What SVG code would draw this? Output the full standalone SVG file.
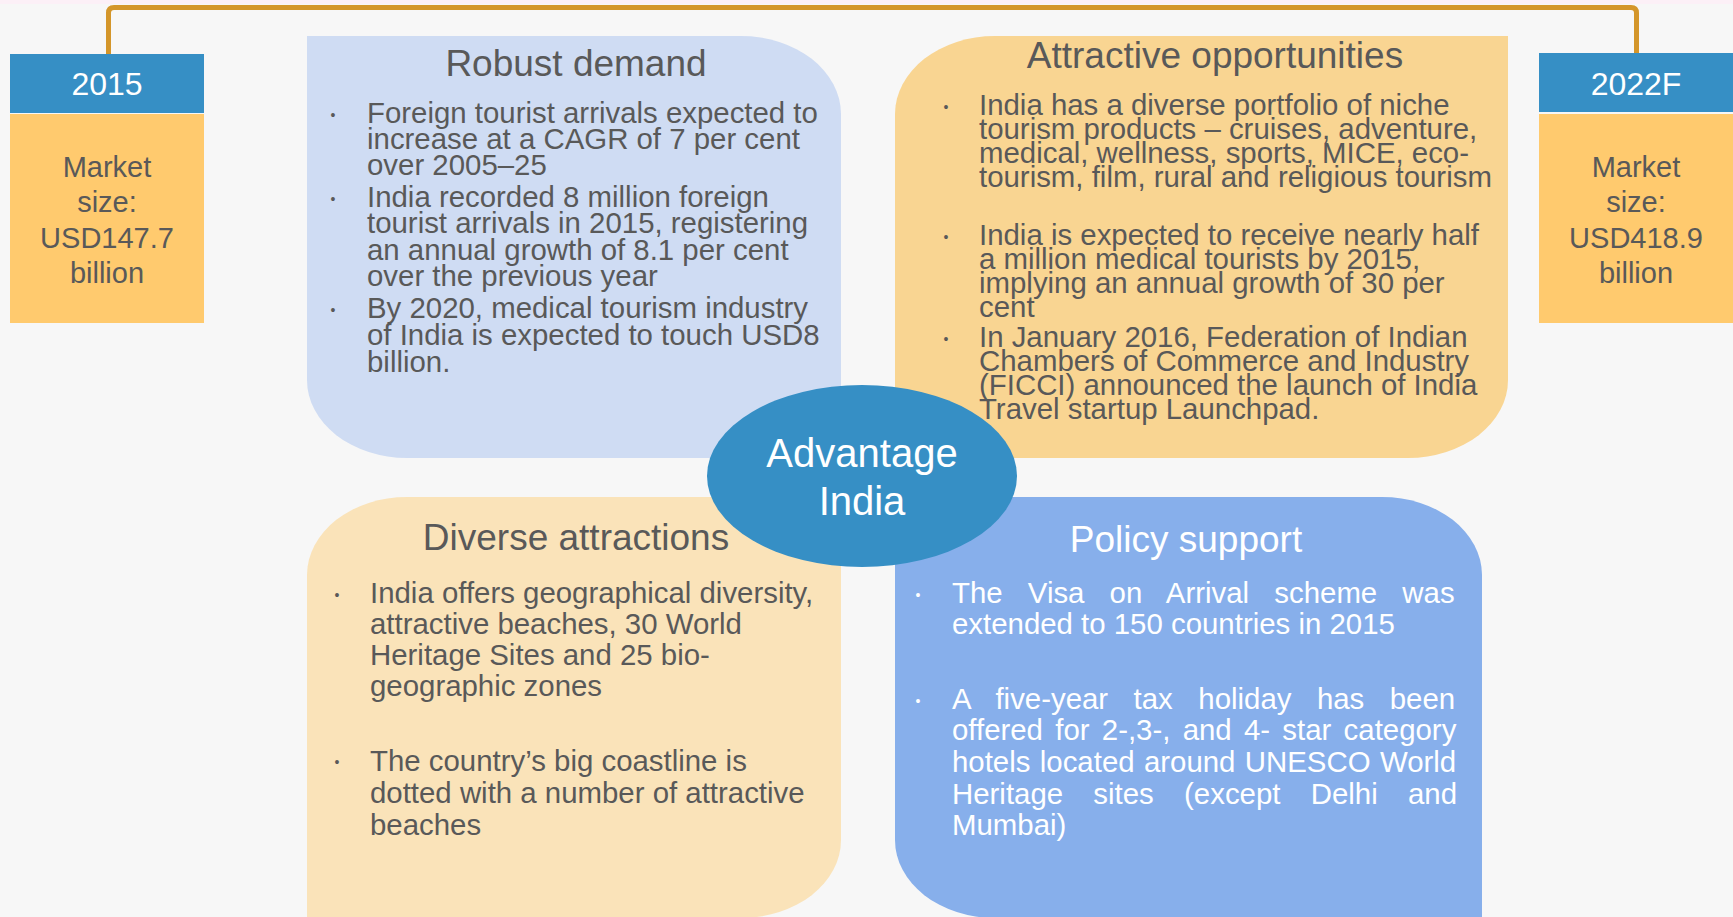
<svg xmlns="http://www.w3.org/2000/svg" width="1733" height="917" viewBox="0 0 1733 917">
<style>
.t{font-family:"Liberation Sans",Arial,sans-serif;fill:#595959}
.w{fill:#ffffff}
.h{font-size:37px;text-anchor:middle}
.b{font-size:29.4px}
.m{font-size:29px;text-anchor:middle}
.y{font-size:32px;text-anchor:middle}
.bu{font-size:14px;text-anchor:middle}
.conn{fill:none;stroke:#d4962a;stroke-width:5;stroke-linejoin:round}
.blue{fill:#368fc5}
.orng{fill:#ffca6e}
</style>
<rect x="0" y="0" width="1733" height="917" fill="#f7f7f7"/>
<rect x="0" y="0" width="1733" height="4" fill="#fcf0f7"/>
<g id="connectors">
<path class="conn" d="M108.5 54 V13 Q108.5 7.5 114 7.5 H1631 Q1636.5 7.5 1636.5 13 V53"/>
</g>
<g id="year2015">
<rect class="blue" x="10" y="54" width="194" height="59"/>
<rect class="orng" x="10" y="114" width="194" height="209"/>
<text class="t w y" x="107" y="95">2015</text>
<text class="t m" x="107" y="177">Market</text>
<text class="t m" x="107" y="212">size:</text>
<text class="t m" x="107" y="248">USD147.7</text>
<text class="t m" x="107" y="283">billion</text>
</g>
<g id="year2022">
<rect class="blue" x="1539" y="53" width="194" height="59"/>
<rect class="orng" x="1539" y="114" width="194" height="209"/>
<text class="t w y" x="1636" y="95">2022F</text>
<text class="t m" x="1636" y="177">Market</text>
<text class="t m" x="1636" y="212">size:</text>
<text class="t m" x="1636" y="248">USD418.9</text>
<text class="t m" x="1636" y="283">billion</text>
</g>
<g id="robust">
<path d="M307 36 H741 A100 78 0 0 1 841 114 V458 H407 A100 78 0 0 1 307 380 Z" fill="#cfdcf3"/>
<text class="t h" x="576" y="76">Robust demand</text>
<text class="t bu" x="333" y="120">•</text>
<text class="t bu" x="333" y="204">•</text>
<text class="t bu" x="333" y="315">•</text>
<text class="t b" x="367" y="123">Foreign tourist arrivals expected to</text>
<text class="t b" x="367" y="149">increase at a CAGR of 7 per cent</text>
<text class="t b" x="367" y="175">over 2005–25</text>
<text class="t b" x="367" y="207">India recorded 8 million foreign</text>
<text class="t b" x="367" y="233">tourist arrivals in 2015, registering</text>
<text class="t b" x="367" y="260">an annual growth of 8.1 per cent</text>
<text class="t b" x="367" y="286">over the previous year</text>
<text class="t b" x="367" y="318">By 2020, medical tourism industry</text>
<text class="t b" x="367" y="345">of India is expected to touch USD8</text>
<text class="t b" x="367" y="372">billion.</text>
</g>
<g id="attractive">
<path d="M995 36 H1508 V380 A100 78 0 0 1 1408 458 H895 V114 A100 78 0 0 1 995 36 Z" fill="#f9d592"/>
<text class="t h" x="1215" y="68">Attractive opportunities</text>
<text class="t bu" x="946" y="112">•</text>
<text class="t bu" x="946" y="242">•</text>
<text class="t bu" x="946" y="344">•</text>
<text class="t b" x="979" y="115">India has a diverse portfolio of niche</text>
<text class="t b" x="979" y="139">tourism products – cruises, adventure,</text>
<text class="t b" x="979" y="163">medical, wellness, sports, MICE, eco-</text>
<text class="t b" x="979" y="187">tourism, film, rural and religious tourism</text>
<text class="t b" x="979" y="245">India is expected to receive nearly half</text>
<text class="t b" x="979" y="269">a million medical tourists by 2015,</text>
<text class="t b" x="979" y="293">implying an annual growth of 30 per</text>
<text class="t b" x="979" y="317">cent</text>
<text class="t b" x="979" y="347">In January 2016, Federation of Indian</text>
<text class="t b" x="979" y="371">Chambers of Commerce and Industry</text>
<text class="t b" x="979" y="395">(FICCI) announced the launch of India</text>
<text class="t b" x="979" y="419">Travel startup Launchpad.</text>
</g>
<g id="diverse">
<path d="M407 497 H841 V840 A100 78 0 0 1 741 918 H307 V575 A100 78 0 0 1 407 497 Z" fill="#fae3b9"/>
<text class="t h" x="576" y="550">Diverse attractions</text>
<text class="t bu" x="337" y="600">•</text>
<text class="t bu" x="337" y="767">•</text>
<text class="t b" x="370" y="603">India offers geographical diversity,</text>
<text class="t b" x="370" y="634">attractive beaches, 30 World</text>
<text class="t b" x="370" y="665">Heritage Sites and 25 bio-</text>
<text class="t b" x="370" y="696">geographic zones</text>
<text class="t b" x="370" y="771">The country’s big coastline is</text>
<text class="t b" x="370" y="803">dotted with a number of attractive</text>
<text class="t b" x="370" y="835">beaches</text>
</g>
<g id="policy">
<path d="M895 497 H1382 A100 78 0 0 1 1482 575 V918 H995 A100 78 0 0 1 895 840 Z" fill="#87afeb"/>
<text class="t w h" x="1186" y="552">Policy support</text>
<text class="t w bu" x="918" y="600">•</text>
<text class="t w bu" x="918" y="706">•</text>
<text class="t w b" x="952" y="603" word-spacing="17">The Visa on Arrival scheme was</text>
<text class="t w b" x="952" y="634">extended to 150 countries in 2015</text>
<text class="t w b" x="952" y="709" word-spacing="17.3">A five-year tax holiday has been</text>
<text class="t w b" x="952" y="740" word-spacing="4.1">offered for 2-,3-, and 4- star category</text>
<text class="t w b" x="952" y="772" word-spacing="1.2">hotels located around UNESCO World</text>
<text class="t w b" x="952" y="804" word-spacing="22.1">Heritage sites (except Delhi and</text>
<text class="t w b" x="952" y="835">Mumbai)</text>
</g>
<g id="advantage">
<ellipse cx="862" cy="476" rx="155" ry="91" fill="#368fc5"/>
<text class="t w" x="862" y="467" font-size="40" text-anchor="middle">Advantage</text>
<text class="t w" x="862" y="515" font-size="40" text-anchor="middle">India</text>
</g>
</svg>
